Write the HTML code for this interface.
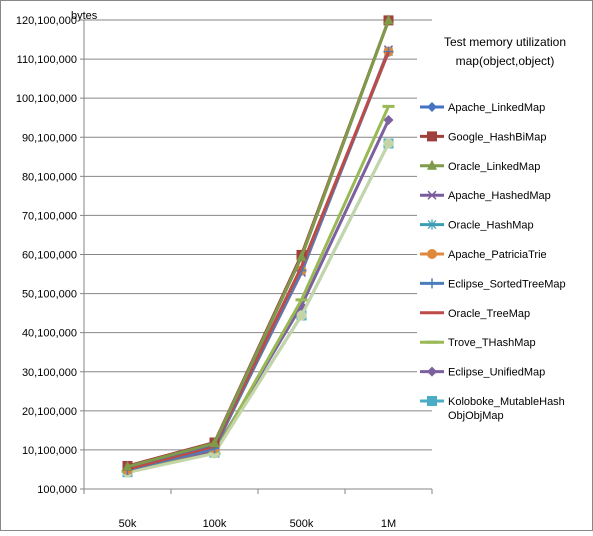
<!DOCTYPE html>
<html><head><meta charset="utf-8"><style>
body{margin:0;background:#fff;font-family:"Liberation Sans",sans-serif}
svg text{font-family:"Liberation Sans",sans-serif;font-size:11px;fill:#000}
</style></head><body>
<svg id="chart" width="593" height="531">
<rect x="0.5" y="0.5" width="592" height="530" fill="#fff" stroke="#888"/>
<g id="grid"></g><g id="axes"></g><g id="series"></g><g id="legend"></g>
<text x="71" y="19">bytes</text>
<text x="505" y="46" text-anchor="middle" font-size="12" style="font-size:12px">Test  memory utilization</text>
<text x="505" y="65" text-anchor="middle" style="font-size:12px">map(object,object)</text>
</svg>
<script>
const categories=["50k","100k","500k","1M"];
const seriesNames=["Apache_LinkedMap","Google_HashBiMap","Oracle_LinkedMap","Apache_HashedMap","Oracle_HashMap","Apache_PatriciaTrie","Eclipse_SortedTreeMap","Oracle_TreeMap","Trove_THashMap","Eclipse_UnifiedMap","Koloboke_MutableHashObjObjMap","Extra"];
const colors=["#4472C4","#A0403C","#7F9A48","#7A5C9E","#3C9CB4","#E0893C","#4A7EBB","#BE4B48","#98B954","#7D60A0","#4BACC6","#C4D6A8"];
const markers=["diamond","square","triangle","x","star","circle","plus","none","dash","diamond","square","circle"];
const v0=[5.8,11.6,59.5,120];
const v1=[6.0,12.0,60.0,120];
const v2=[5.8,11.8,59.5,120];
const v3=[5.2,10.8,55.5,112.5];
const v4=[5.0,10.5,56.0,112];
const v5=[5.0,10.5,56.0,112];
const v6=[5.0,10.5,56.0,112];
const v7=[5.2,11.0,57.0,112];
const v8=[4.6,9.2,48.5,98];
const v9=[4.8,9.8,47.0,94.5];
const v10=[4.4,9.4,44.5,88.5];
const v11=[4.3,9.2,44.5,88.5];
const values=[v0,v1,v2,v3,v4,v5,v6,v7,v8,v9,v10,v11];
const yTicks=[0.1,10.1,20.1,30.1,40.1,50.1,60.1,70.1,80.1,90.1,100.1,110.1,120.1];
const yLabels=["100,000","10,100,000","20,100,000","30,100,000","40,100,000","50,100,000","60,100,000","70,100,000","80,100,000","90,100,000","100,100,000","110,100,000","120,100,000"];
const NS="http://www.w3.org/2000/svg";
const L=84,R=432,T=20,B=489,yMin=0.1,yMax=120.1;
const y=v=>B-(v-yMin)/(yMax-yMin)*(B-T);
const x=i=>L+(i+0.5)*(R-L)/categories.length;
function mk(tag,at,parent){const e=document.createElementNS(NS,tag);for(const k in at)e.setAttribute(k,at[k]);parent.appendChild(e);return e;}
const grid=document.getElementById('grid'),axes=document.getElementById('axes'),ser=document.getElementById('series'),leg=document.getElementById('legend');
yTicks.forEach((t,i)=>{
 const g=mk('line',{x1:L,x2:(t>25&&t<115)?417:R,y1:y(t),y2:y(t),stroke:'#868686'},grid);
 
 
 const tk=mk('line',{x1:L-4,x2:L,y1:y(t),y2:y(t),stroke:'#868686'},axes);
 
 
 const tx=mk('text',{x:L-7,y:y(t)+4,'text-anchor':'end'},axes);tx.textContent=yLabels[i];
 
 
});
const ya=mk('line',{x1:L,x2:L,y1:T,y2:B,stroke:'#868686'},axes);


const xa=mk('line',{x1:L,x2:R,y1:B,y2:B,stroke:'#868686'},axes);


for(let i=0;i<=categories.length;i++){const t=mk('line',{x1:L+i*(R-L)/categories.length,x2:L+i*(R-L)/categories.length,y1:B,y2:B+5,stroke:'#868686'},axes);
 
 }
categories.forEach((c,i)=>{const t=mk('text',{x:x(i),y:B+38,'text-anchor':'middle'},axes);t.textContent=c;
 
 });
function marker(type,cx,cy,col,parent){
 let e;
 if(type==='diamond')e=mk('polygon',{points:`${cx},${cy-5} ${cx+5},${cy} ${cx},${cy+5} ${cx-5},${cy}`,fill:col},parent);
 else if(type==='square')e=mk('rect',{x:cx-5,y:cy-5,width:10,height:10,fill:col},parent);
 else if(type==='triangle')e=mk('polygon',{points:`${cx},${cy-6} ${cx+5},${cy+4} ${cx-5},${cy+4}`,fill:col},parent);
 else if(type==='circle')e=mk('circle',{cx:cx,cy:cy,r:5,fill:col},parent);
 else if(type==='x')e=mk('path',{d:`M${cx-4},${cy-4}L${cx+4},${cy+4}M${cx+4},${cy-4}L${cx-4},${cy+4}`,stroke:col,'stroke-width':1.5},parent);
 else if(type==='star')e=mk('path',{d:`M${cx-4},${cy-4}L${cx+4},${cy+4}M${cx+4},${cy-4}L${cx-4},${cy+4}M${cx},${cy-5}L${cx},${cy+5}`,stroke:col,'stroke-width':1.2},parent);
 else if(type==='plus')e=mk('path',{d:`M${cx-5},${cy}L${cx+5},${cy}M${cx},${cy-5}L${cx},${cy+5}`,stroke:col,'stroke-width':1.5},parent);
 else if(type==='dash')e=mk('rect',{x:cx-6,y:cy-1.5,width:12,height:3,fill:col},parent);
 return e;
}
const order=[10,9,8,11,3,4,5,6,7,0,1,2];
order.forEach(s=>{
 const g=mk('g',{},ser);
 
 
 const pts=values[s].map((v,i)=>x(i)+','+y(v)).join(' ');
 mk('polyline',{points:pts,fill:'none',stroke:colors[s],'stroke-width':3},g);
 values[s].forEach((v,i)=>{const m=marker(markers[s],x(i),y(v),colors[s],g);
  if(m){
  }});
});
const legendNames=seriesNames.slice(0,11);
legendNames.forEach((n,i)=>{
 const ly=107+i*29.4;
 const g=mk('g',{},leg);
 
 
 mk('line',{x1:420,x2:444,y1:ly,y2:ly,stroke:colors[i],'stroke-width':3},g);
 marker(markers[i],432,ly,colors[i],g);
 if(n.length>25){
  const t1=mk('text',{x:448,y:ly+4},g);t1.textContent="Koloboke_MutableHash";
  const t2=mk('text',{x:448,y:ly+18},g);t2.textContent="ObjObjMap";
 } else {const t=mk('text',{x:448,y:ly+4},g);t.textContent=n;}
});
</script>
</body></html>
